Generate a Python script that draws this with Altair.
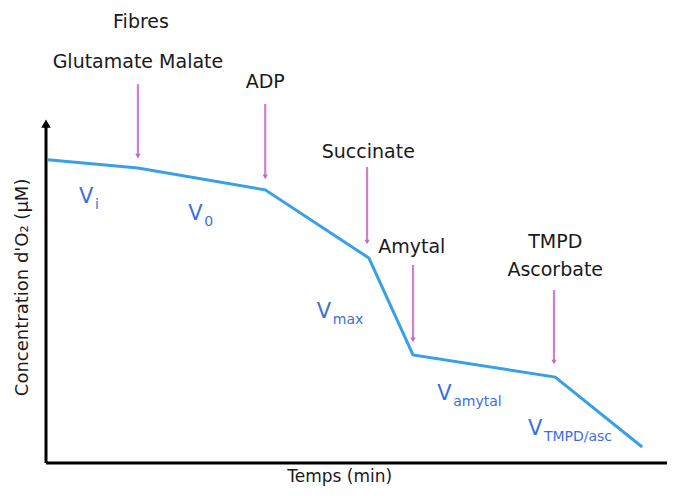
import altair as alt
import pandas as pd

# O2 concentration trace (schematic units)
t_pts = [0.3, 14.8, 35.3, 52.0, 59.1, 82.0, 96.0]
o2_pts = [88.9, 86.5, 80.1, 60.1, 31.7, 25.2, 4.7]

# injection arrows
inj_x = [14.8, 35.3, 51.7, 59.1, 81.8]
inj_top = [111.1, 105.3, 86.8, 58.1, 50.7]
inj_bot = [90.0, 83.9, 64.8, 36.1, 29.6]

# injection labels
lab_text = ["Fibres", "Glutamate Malate", "ADP", "Succinate", "Amytal", "TMPD", "Ascorbate"]
lab_x = [15.3, 14.8, 35.3, 51.9, 58.9, 82.0, 82.0]
lab_y = [129.3, 117.6, 111.7, 91.2, 63.3, 64.8, 56.6]

# rate labels
rate_sub = ["i", "0", "max", "amytal", "TMPD/asc"]
rate_x = [5.3, 22.9, 43.6, 63.0, 77.6]
rate_y = [76.2, 71.3, 42.5, 18.5, 8.2]

# axis titles
ttl_text = ["Concentration d'O\u2082 (\u03bcM)", "Temps (min)"]
ttl_x = [-3.7, 47.3]
ttl_y = [51.5, -4.0]

line_df = pd.DataFrame({"x": t_pts, "y": o2_pts})
inj_df = pd.DataFrame({"x": inj_x, "y": inj_top, "y2": inj_bot})
lab_df = pd.DataFrame({"x": lab_x, "y": lab_y, "text": lab_text})
rate_df = pd.DataFrame({"x": rate_x, "y": rate_y, "sub": rate_sub, "V": ["V"] * len(rate_sub)})
ytl_df = pd.DataFrame({"x": ttl_x[:1], "y": ttl_y[:1], "text": ttl_text[:1]})
xtl_df = pd.DataFrame({"x": ttl_x[1:], "y": ttl_y[1:], "text": ttl_text[1:]})
xax_df = pd.DataFrame({"x": [0.0], "x2": [100.0], "y": [0.0]})
yax_df = pd.DataFrame({"x": [0.0], "y": [0.0], "y2": [98.5]})
tip_df = pd.DataFrame({"x": [0.0], "y": [99.5]})

X = alt.X("x:Q", scale=alt.Scale(domain=[0, 100], nice=False, zero=False), axis=None)
Y = alt.Y("y:Q", scale=alt.Scale(domain=[0, 100], nice=False, zero=False), axis=None)
Y2 = alt.Y("y2:Q", scale=alt.Scale(domain=[0, 100], nice=False, zero=False), axis=None)

FONT = "DejaVu Sans"

x_axis = alt.Chart(xax_df).mark_rule(color="black", strokeWidth=3).encode(x=X, x2="x2:Q", y=Y)
y_axis = alt.Chart(yax_df).mark_rule(color="black", strokeWidth=3).encode(x=X, y=Y, y2="y2:Q")
y_tip = alt.Chart(tip_df).mark_point(
    shape="triangle-up", filled=True, color="black", size=90, opacity=1
).encode(x=X, y=Y)

trace = alt.Chart(line_df).mark_line(color="#3aa0e6", strokeWidth=3).encode(x=X, y=Y)

arrows = alt.Chart(inj_df).mark_rule(color="#cf80cc", strokeWidth=2.2).encode(x=X, y=Y, y2="y2:Q")
heads = alt.Chart(inj_df).mark_point(
    shape="triangle-down", filled=True, color="#c46ac2", size=28, opacity=1
).encode(x=X, y=Y2)

labels = alt.Chart(lab_df).mark_text(
    font=FONT, fontSize=19, color="#1a1a1a", baseline="middle", align="center"
).encode(x=X, y=Y, text="text:N")

rate_v = alt.Chart(rate_df).mark_text(
    font=FONT, fontSize=21, color="#3b6fdc", baseline="alphabetic", align="left"
).encode(x=X, y=Y, text="V:N")
rate_s = alt.Chart(rate_df).mark_text(
    font=FONT, fontSize=14, color="#3b6fdc", baseline="alphabetic", align="left", dx=16, dy=6
).encode(x=X, y=Y, text="sub:N")

ytitle = alt.Chart(ytl_df).mark_text(
    font=FONT, fontSize=18, color="#1a1a1a", angle=270, baseline="middle", align="center"
).encode(x=X, y=Y, text="text:N")
xtitle = alt.Chart(xtl_df).mark_text(
    font=FONT, fontSize=17, color="#1a1a1a", baseline="middle", align="center"
).encode(x=X, y=Y, text="text:N")

chart = alt.layer(
    x_axis, y_axis, y_tip, trace, arrows, heads, labels, rate_v, rate_s, ytitle, xtitle
).properties(
    width=621, height=341,
    padding={"left": 38, "top": 114, "right": 0, "bottom": 25},
    autosize="none",
    background="white",
).configure_view(stroke=None)

chart.save("out.html", embed_options={"renderer": "svg", "actions": False})
